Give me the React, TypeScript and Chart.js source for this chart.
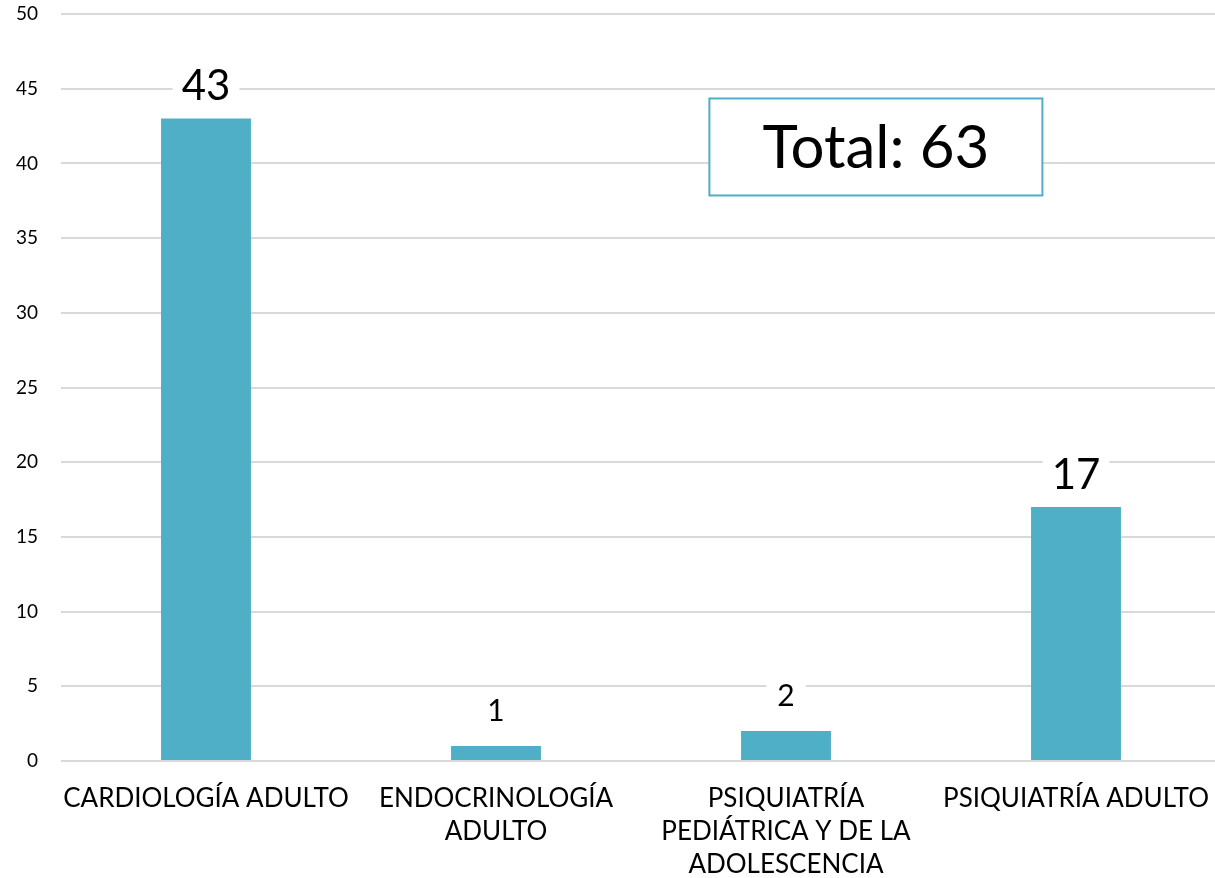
import React, { useEffect, useRef } from "react";
import { Chart, registerables } from "chart.js";

Chart.register(...registerables);

const categories: string[][] = [
  ["CARDIOLOGÍA ADULTO"],
  ["ENDOCRINOLOGÍA", "ADULTO"],
  ["PSIQUIATRÍA", "PEDIÁTRICA Y DE LA", "ADOLESCENCIA"],
  ["PSIQUIATRÍA ADULTO"],
];
const values: number[] = [43, 1, 2, 17];
const yTicks: number[] = [0, 5, 10, 15, 20, 25, 30, 35, 40, 45, 50];
const labelFontSizes: number[] = [42, 30, 30, 42];
const totalLabel = "Total: " + values.reduce((a, b) => a + b, 0);

const FONT = "Lato, 'Open Sans', sans-serif";
const BAR_COLOR = "#4FAFC7";

const dataLabelPlugin = {
  id: "dataLabels",
  afterDatasetsDraw(chart: any) {
    const ctx = chart.ctx;
    const meta = chart.getDatasetMeta(0);
    meta.data.forEach((bar: any, i: number) => {
      const size = labelFontSizes[i];
      const text = String(values[i]);
      ctx.save();
      ctx.font = `${size}px ${FONT}`;
      const w = ctx.measureText(text).width;
      const cy = bar.y - (size > 35 ? 32 : 35);
      const padX = size > 35 ? 9 : 11;
      ctx.fillStyle = "#ffffff";
      ctx.fillRect(bar.x - w / 2 - padX, cy - size * 0.55, w + padX * 2, size * 1.1);
      ctx.fillStyle = "#000000";
      ctx.textAlign = "center";
      ctx.textBaseline = "middle";
      ctx.fillText(text, bar.x, cy);
      ctx.restore();
    });
  },
};

const totalBoxPlugin = {
  id: "totalBox",
  afterDraw(chart: any) {
    const ctx = chart.ctx;
    const xs = chart.scales.x;
    const ys = chart.scales.y;
    const cx = xs.getPixelForValue(2.31);
    const cy = ys.getPixelForValue(41.1);
    const w = 333;
    const h = 97;
    ctx.save();
    ctx.fillStyle = "#ffffff";
    ctx.fillRect(cx - w / 2, cy - h / 2, w, h);
    ctx.strokeStyle = BAR_COLOR;
    ctx.lineWidth = 2;
    ctx.strokeRect(cx - w / 2, cy - h / 2, w, h);
    ctx.fillStyle = "#000000";
    ctx.font = `60px ${FONT}`;
    ctx.textAlign = "center";
    ctx.textBaseline = "middle";
    ctx.fillText(totalLabel, cx, cy + 2);
    ctx.restore();
  },
};

export default function App() {
  const canvasRef = useRef<HTMLCanvasElement | null>(null);

  useEffect(() => {
    if (!canvasRef.current) return;
    const chart = new Chart(canvasRef.current, {
      type: "bar",
      data: {
        labels: categories,
        datasets: [
          {
            data: values,
            backgroundColor: BAR_COLOR,
            borderWidth: 0,
            categoryPercentage: 1,
            barPercentage: 0.31,
          },
        ],
      },
      options: {
        animation: false,
        responsive: true,
        maintainAspectRatio: false,
        layout: { padding: { top: 14, left: 0, right: 0, bottom: 0 } },
        plugins: {
          legend: { display: false },
          tooltip: { enabled: false },
          title: { display: false },
        },
        scales: {
          x: {
            grid: { display: false },
            border: { display: false },
            ticks: {
              color: "#000000",
              font: { family: FONT, size: 26, lineHeight: 1.27 },
              padding: 13,
              maxRotation: 0,
              autoSkip: false,
            },
            afterFit(scale: any) {
              scale.height = 117;
              scale.paddingLeft = 0;
              scale.paddingRight = 0;
            },
          },
          y: {
            min: 0,
            max: 50,
            afterBuildTicks(scale: any) {
              scale.ticks = yTicks.map((v) => ({ value: v }));
            },
            grid: { color: "#D9D9D9", lineWidth: 2, tickLength: 0 },
            border: { display: false },
            ticks: {
              color: "#000000",
              font: { family: FONT, size: 19 },
              padding: 23,
            },
            afterFit(scale: any) {
              scale.width = 61;
              scale.paddingTop = 0;
              scale.paddingBottom = 0;
            },
          },
        },
      },
      plugins: [dataLabelPlugin, totalBoxPlugin],
    });
    return () => chart.destroy();
  }, []);

  return (
    <div
      style={{
        position: "fixed",
        left: 0,
        top: 0,
        width: 1215,
        height: 878,
        overflow: "hidden",
        background: "#ffffff",
      }}
    >
      <div style={{ position: "relative", width: 1221, height: 878 }}>
        <canvas ref={canvasRef} />
      </div>
    </div>
  );
}
